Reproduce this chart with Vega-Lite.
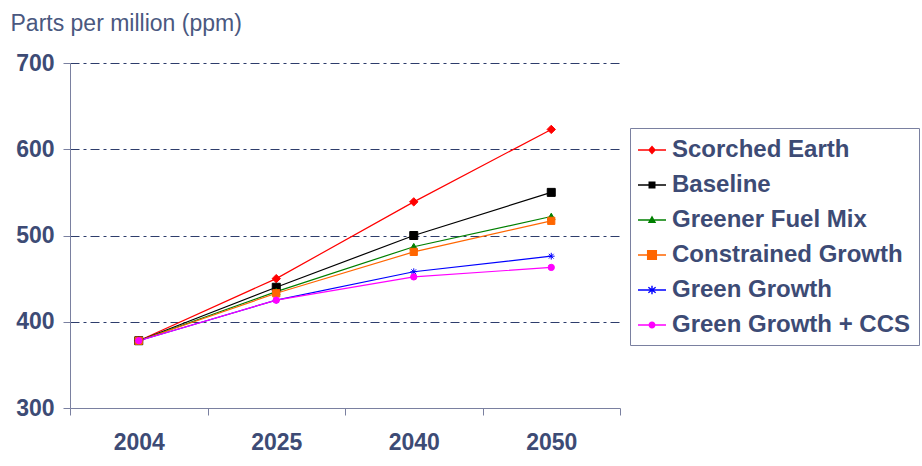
{
  "$schema": "https://vega.github.io/schema/vega-lite/v6.json",
  "width": 550,
  "height": 345,
  "autosize": {"type": "none"},
  "padding": {"left": 70, "top": 63, "right": 302, "bottom": 58},
  "background": "white",
  "config": {"font": "Liberation Sans", "view": {"stroke": null}},
  "data": {
    "values": [
      {"series": "Scorched Earth", "year": "2004", "ppm": 378},
      {"series": "Scorched Earth", "year": "2025", "ppm": 450},
      {"series": "Scorched Earth", "year": "2040", "ppm": 539},
      {"series": "Scorched Earth", "year": "2050", "ppm": 623},
      {"series": "Baseline", "year": "2004", "ppm": 378},
      {"series": "Baseline", "year": "2025", "ppm": 440},
      {"series": "Baseline", "year": "2040", "ppm": 500},
      {"series": "Baseline", "year": "2050", "ppm": 550},
      {"series": "Greener Fuel Mix", "year": "2004", "ppm": 378},
      {"series": "Greener Fuel Mix", "year": "2025", "ppm": 435},
      {"series": "Greener Fuel Mix", "year": "2040", "ppm": 487},
      {"series": "Greener Fuel Mix", "year": "2050", "ppm": 522},
      {"series": "Constrained Growth", "year": "2004", "ppm": 378},
      {"series": "Constrained Growth", "year": "2025", "ppm": 433},
      {"series": "Constrained Growth", "year": "2040", "ppm": 481},
      {"series": "Constrained Growth", "year": "2050", "ppm": 517},
      {"series": "Green Growth", "year": "2004", "ppm": 378},
      {"series": "Green Growth", "year": "2025", "ppm": 425},
      {"series": "Green Growth", "year": "2040", "ppm": 458},
      {"series": "Green Growth", "year": "2050", "ppm": 476},
      {"series": "Green Growth + CCS", "year": "2004", "ppm": 378},
      {"series": "Green Growth + CCS", "year": "2025", "ppm": 425},
      {"series": "Green Growth + CCS", "year": "2040", "ppm": 452},
      {"series": "Green Growth + CCS", "year": "2050", "ppm": 463}
    ]
  },
  "encoding": {
    "x": {
      "field": "year",
      "type": "ordinal",
      "sort": ["2004", "2025", "2040", "2050"],
      "scale": {"type": "band", "paddingInner": 0, "paddingOuter": 0},
      "axis": {
        "title": null,
        "labelAngle": 0,
        "grid": false,
        "domainColor": "#7a80a0",
        "tickColor": "#7a80a0",
        "tickSize": 7,
        "tickBand": "extent",
        "labelFontSize": 23,
        "labelFontWeight": "bold",
        "labelColor": "#3d4b75",
        "labelPadding": 16
      }
    },
    "y": {
      "field": "ppm",
      "type": "quantitative",
      "scale": {"domain": [300, 700], "nice": false, "zero": false},
      "axis": {
        "values": [300, 400, 500, 600, 700],
        "grid": true,
        "gridColor": "#2d3c6b",
        "gridDash": [9, 4, 3, 4],
        "gridWidth": 1,
        "gridOpacity": {"condition": {"test": "datum.value === 300", "value": 0}, "value": 1},
        "domainColor": "#7a80a0",
        "tickColor": "#7a80a0",
        "tickSize": 7,
        "labelFontSize": 23,
        "labelFontWeight": "bold",
        "labelColor": "#3d4b75",
        "labelPadding": 9,
        "title": "Parts per million (ppm)",
        "titleAngle": 0,
        "titleX": -60,
        "titleY": -33,
        "titleAlign": "left",
        "titleBaseline": "alphabetic",
        "titleFontWeight": "normal",
        "titleFontSize": 23,
        "titleColor": "#4a5880"
      }
    }
  },
  "layer": [
    {
      "mark": {"type": "line", "strokeWidth": 1.2},
      "encoding": {
        "color": {
          "field": "series",
          "type": "nominal",
          "scale": {
            "domain": ["Scorched Earth", "Baseline", "Greener Fuel Mix", "Constrained Growth", "Green Growth", "Green Growth + CCS"],
            "range": ["#ff0000", "#000000", "#008000", "#ff6600", "#0000ff", "#ff00ff"]
          },
          "legend": {
            "orient": "none",
            "legendX": 560,
            "legendY": 65,
            "title": null,
            "labelFontSize": 24,
            "labelFontWeight": "bold",
            "labelColor": "#3d4b75",
            "labelLimit": 400,
            "labelOffset": 6,
            "symbolSize": 784,
            "symbolStrokeWidth": 0,
            "strokeColor": "#7a80a0",
            "fillColor": "white",
            "padding": 8,
            "rowPadding": 9,
            "encode": {
              "symbols": {
                "update": {
                  "shape": {"signal": "datum.value == 'Scorched Earth' ? 'M-1,-0.06H1V0.06H-1ZM0,-0.32L0.28,0L0,0.32L-0.28,0Z' : datum.value == 'Baseline' ? 'M-1,-0.06H1V0.06H-1ZM-0.25,-0.25H0.25V0.25H-0.25Z' : datum.value == 'Greener Fuel Mix' ? 'M-1,-0.06H1V0.06H-1ZM0,-0.32L0.3,0.22H-0.3Z' : datum.value == 'Constrained Growth' ? 'M-1,-0.06H1V0.06H-1ZM-0.36,-0.36H0.36V0.36H-0.36Z' : datum.value == 'Green Growth' ? 'M-1,-0.06H1V0.06H-1ZM-0.05,-0.3H0.05V0.3H-0.05ZM-0.23,-0.24L0.29,0.16L0.23,0.24L-0.29,-0.16ZM-0.29,0.16L0.23,-0.24L0.29,-0.16L-0.23,0.24Z' : 'M-1,-0.06H1V0.06H-1ZM0.25,0A0.25,0.25 0 1,1 -0.25,0A0.25,0.25 0 1,1 0.25,0Z'"},
                  "size": {"value": 784},
                  "fill": {"signal": "scale('color', datum.value)"},
                  "fillOpacity": {"value": 1},
                  "opacity": {"value": 1}
                }
              }
            }
          }
        }
      }
    },
    {
      "transform": [{"calculate": "datum.series", "as": "marker"}],
      "mark": {"type": "point", "filled": true, "opacity": 1, "strokeWidth": 1},
      "encoding": {
        "fill": {
          "field": "marker",
          "type": "nominal",
          "scale": {
            "domain": ["Green Growth + CCS", "Green Growth", "Constrained Growth", "Greener Fuel Mix", "Baseline", "Scorched Earth"],
            "range": ["#ff00ff", "#0000ff", "#ff6600", "#008000", "#000000", "#ff0000"]
          },
          "legend": null
        },
        "shape": {
          "field": "marker",
          "type": "nominal",
          "scale": {
            "domain": ["Green Growth + CCS", "Green Growth", "Constrained Growth", "Greener Fuel Mix", "Baseline", "Scorched Earth"],
            "range": ["circle", "M-1,0H1M0,-1V1M-0.7,-0.7L0.7,0.7M-0.7,0.7L0.7,-0.7", "square", "triangle-up", "square", "diamond"]
          },
          "legend": null
        },
        "size": {
          "field": "marker",
          "type": "nominal",
          "scale": {
            "domain": ["Green Growth + CCS", "Green Growth", "Constrained Growth", "Greener Fuel Mix", "Baseline", "Scorched Earth"],
            "range": [40, 70, 95, 50, 45, 45]
          },
          "legend": null
        },
        "stroke": {
          "field": "marker",
          "type": "nominal",
          "scale": {
            "domain": ["Green Growth + CCS", "Green Growth", "Constrained Growth", "Greener Fuel Mix", "Baseline", "Scorched Earth"],
            "range": ["#ff00ff", "#0000ff", "#ff6600", "#008000", "#000000", "#ff0000"]
          },
          "legend": null
        }
      }
    }
  ]
}
